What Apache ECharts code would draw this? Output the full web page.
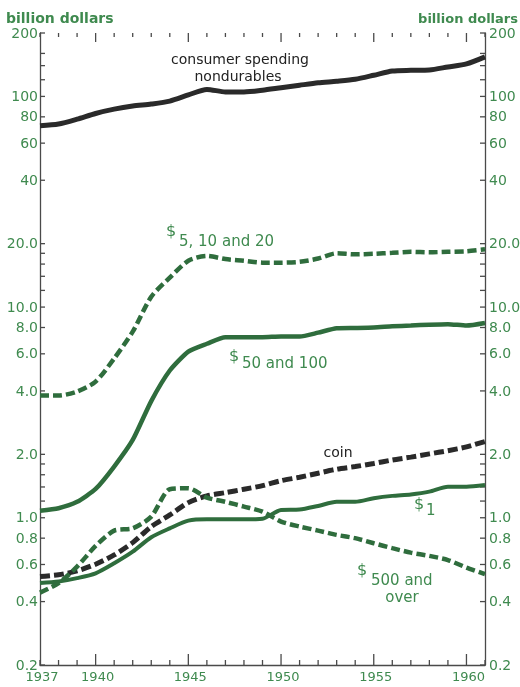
<!DOCTYPE html>
<html>
<head>
<meta charset="utf-8">
<script src="https://cdn.jsdelivr.net/npm/echarts@6/dist/echarts.min.js"></script>
<style>html,body{margin:0;padding:0;background:#fff;}#c{width:520px;height:687px;}</style>
</head>
<body>
<div id="c"></div>
<script>
const years = [1937,1938,1939,1940,1941,1942,1943,1944,1945,1946,1947,1948,1949,1950,1951,1952,1953,1954,1955,1956,1957,1958,1959,1960,1961];
const consumerNondurables = [72.6,74,78,83,87,90,92,95,101.6,108,105,105,107,110,113,116,118,120.6,126,132,133,133.5,138,142.6,154];
const bills5to20 = [3.8,3.8,3.97,4.43,5.7,7.64,11.2,13.8,16.6,17.5,16.9,16.6,16.25,16.25,16.4,17.0,18.0,17.8,17.9,18.1,18.3,18.2,18.3,18.4,18.8];
const bills50and100 = [1.08,1.11,1.19,1.37,1.75,2.34,3.58,5.0,6.15,6.7,7.2,7.2,7.2,7.25,7.25,7.56,7.93,7.96,8.0,8.1,8.17,8.25,8.3,8.17,8.4];
const coin = [0.526,0.536,0.559,0.602,0.666,0.762,0.908,1.031,1.18,1.27,1.316,1.366,1.42,1.5,1.557,1.627,1.70,1.75,1.81,1.88,1.94,2.01,2.08,2.17,2.30];
const bills1 = [0.49,0.498,0.517,0.545,0.608,0.69,0.808,0.891,0.969,0.984,0.984,0.984,0.99,1.089,1.094,1.138,1.19,1.19,1.237,1.27,1.29,1.33,1.405,1.405,1.43];
const bills500over = [0.441,0.489,0.586,0.735,0.869,0.891,1.012,1.366,1.38,1.246,1.19,1.13,1.069,0.959,0.908,0.869,0.829,0.80,0.757,0.717,0.683,0.659,0.630,0.58,0.54];

const yLabelValues = [0.2,0.4,0.6,0.8,1,2,4,6,8,10,20,40,60,80,100,200];
const yMinorValues = [1.2,1.4,1.6,1.8,12,14,16,18,120,140,160];
const xLabelValues = [1937,1940,1945,1950,1955,1960];
const xMajorTicks = [1940,1945,1950,1955,1960];

const GREEN_TEXT = '#3f8a4f';
const GREEN_LINE = '#2f6d3d';
const BLACK_LINE = '#2a2a2a';
const AXIS_COLOR = '#4a4a4a';
const FONT = '"DejaVu Sans"';
const Y_LABEL_FONT = '14px ' + FONT;

function yFmt(v){ return v >= 40 ? String(Math.round(v)) : v.toFixed(1); }
function pairs(arr){ return years.map((y,i)=>[y,arr[i]]); }

const X_MIN = years[0], X_MAX = years[years.length-1];
const Y_MIN = 0.2, Y_MAX = 200;

const chart = echarts.init(document.getElementById('c'));

function tickLine(x1,y1,x2,y2){
  return {type:'line', shape:{x1:x1,y1:y1,x2:x2,y2:y2}, style:{stroke:AXIS_COLOR, lineWidth:1.3}};
}

chart.setOption({
  animation:false,
  backgroundColor:'#fff',
  grid:{left:40, right:35, top:33, bottom:22, containLabel:false},
  xAxis:{type:'value', min:X_MIN, max:X_MAX, splitLine:{show:false},
    axisLine:{show:true, lineStyle:{color:AXIS_COLOR, width:1.3}},
    axisTick:{show:false},
    axisLabel:{show:false}},
  yAxis:[
    {type:'log', logBase:10, min:Y_MIN, max:Y_MAX, position:'left', splitLine:{show:false},
      axisLine:{show:true, lineStyle:{color:AXIS_COLOR, width:1.3}}, axisTick:{show:false}, axisLabel:{show:false}},
    {type:'log', logBase:10, min:Y_MIN, max:Y_MAX, position:'right', splitLine:{show:false},
      axisLine:{show:true, lineStyle:{color:AXIS_COLOR, width:1.3}}, axisTick:{show:false}, axisLabel:{show:false}}
  ],
  series:[
    {name:'consumer spending nondurables', type:'line', data:pairs(consumerNondurables), smooth:0.25, symbol:'none',
      lineStyle:{color:BLACK_LINE, width:5}},
    {name:'$5, 10 and 20', type:'line', data:pairs(bills5to20), smooth:0.25, symbol:'none',
      lineStyle:{color:GREEN_LINE, width:4.5, type:[9,4]}},
    {name:'$50 and 100', type:'line', data:pairs(bills50and100), smooth:0.2, symbol:'none',
      lineStyle:{color:GREEN_LINE, width:4.5}},
    {name:'coin', type:'line', data:pairs(coin), smooth:0.25, symbol:'none',
      lineStyle:{color:BLACK_LINE, width:5, type:[10,4]}},
    {name:'$1', type:'line', data:pairs(bills1), smooth:0.25, symbol:'none',
      lineStyle:{color:GREEN_LINE, width:4}},
    {name:'$500 and over', type:'line', data:pairs(bills500over), smooth:0.25, symbol:'none',
      lineStyle:{color:GREEN_LINE, width:4.5, type:[9,4]}},
    {name:'yTicks', type:'custom', silent:true, clip:false,
      data: yLabelValues.concat(yMinorValues).map(v=>[X_MIN, v]),
      encode:{x:0, y:1},
      renderItem: function(params, api){
        const v = api.value(1);
        const pL = api.coord([X_MIN, v]);
        const pR = api.coord([X_MAX, v]);
        const ch = [tickLine(pL[0], pL[1], pL[0]+5, pL[1]), tickLine(pR[0]-5, pR[1], pR[0], pR[1])];
        if (yLabelValues.indexOf(v) >= 0) {
          const t = yFmt(v);
          ch.push({type:'text', style:{text:t, x:pL[0]-2, y:pL[1]+1, align:'right', verticalAlign:'middle', fill:GREEN_TEXT, font:Y_LABEL_FONT}});
          ch.push({type:'text', style:{text:t, x:pR[0]+4, y:pR[1]+1, align:'left', verticalAlign:'middle', fill:GREEN_TEXT, font:Y_LABEL_FONT}});
        }
        return {type:'group', children:ch};
      }},
    {name:'xTicks', type:'custom', silent:true, clip:false,
      data: years.map(y=>[y, Y_MIN]),
      encode:{x:0, y:1},
      renderItem: function(params, api){
        const yr = api.value(0);
        const pB = api.coord([yr, Y_MIN]);
        const pT = api.coord([yr, Y_MAX]);
        const major = xMajorTicks.indexOf(yr) >= 0;
        const ch = [
          tickLine(pB[0], pB[1], pB[0], pB[1] - (major ? 11 : 5)),
          tickLine(pT[0], pT[1], pT[0], pT[1] + (major ? 9 : 4))
        ];
        if (xLabelValues.indexOf(yr) >= 0) {
          ch.push({type:'text', style:{text:String(yr), x:pB[0]+2, y:pB[1]+6, align:'center', verticalAlign:'top', fill:GREEN_TEXT, font:'13px ' + FONT}});
        }
        return {type:'group', children:ch};
      }}
  ],
  graphic:[
    {type:'text', left:6, top:12, style:{text:'billion dollars', fill:GREEN_TEXT, font:'bold 14px ' + FONT}},
    {type:'text', right:2, top:13, style:{text:'billion dollars', fill:GREEN_TEXT, font:'bold 13px ' + FONT}},
    {type:'text', x:240, y:60, style:{text:'consumer spending', fill:'#222', font:'14px ' + FONT, align:'center', verticalAlign:'middle'}},
    {type:'text', x:238, y:77, style:{text:'nondurables', fill:'#222', font:'14px ' + FONT, align:'center', verticalAlign:'middle'}},
    {type:'text', x:166, y:232, style:{text:'$', fill:GREEN_TEXT, font:'16px ' + FONT, verticalAlign:'middle'}},
    {type:'text', x:179, y:242, style:{text:'5, 10 and 20', fill:GREEN_TEXT, font:'15px ' + FONT, verticalAlign:'middle'}},
    {type:'text', x:229, y:357, style:{text:'$', fill:GREEN_TEXT, font:'16px ' + FONT, verticalAlign:'middle'}},
    {type:'text', x:242, y:364, style:{text:'50 and 100', fill:GREEN_TEXT, font:'15px ' + FONT, verticalAlign:'middle'}},
    {type:'text', x:338, y:453, style:{text:'coin', fill:'#222', font:'14px ' + FONT, align:'center', verticalAlign:'middle'}},
    {type:'text', x:414, y:505, style:{text:'$', fill:GREEN_TEXT, font:'16px ' + FONT, verticalAlign:'middle'}},
    {type:'text', x:426, y:511, style:{text:'1', fill:GREEN_TEXT, font:'15px ' + FONT, verticalAlign:'middle'}},
    {type:'text', x:357, y:571, style:{text:'$', fill:GREEN_TEXT, font:'16px ' + FONT, verticalAlign:'middle'}},
    {type:'text', x:371, y:581, style:{text:'500 and', fill:GREEN_TEXT, font:'15px ' + FONT, verticalAlign:'middle'}},
    {type:'text', x:402, y:598, style:{text:'over', fill:GREEN_TEXT, font:'15px ' + FONT, align:'center', verticalAlign:'middle'}}
  ]
});
</script>
</body>
</html>
